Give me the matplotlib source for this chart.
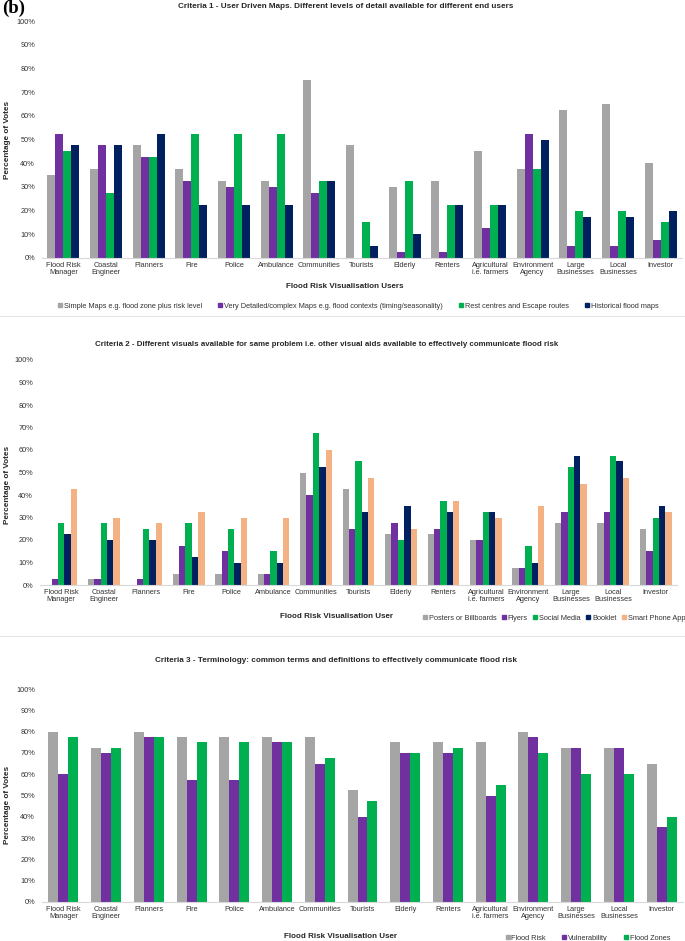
import matplotlib
matplotlib.use("Agg")
import matplotlib.pyplot as plt
import numpy as np
from matplotlib.patches import Patch
from matplotlib.lines import Line2D

plt.rcParams['font.family'] = ['Liberation Sans', 'DejaVu Sans']

users = ["Flood Risk\nManager", "Coastal\nEngineer", "Planners", "Fire", "Police",
         "Ambulance", "Communities", "Tourists", "Elderly", "Renters",
         "Agricultural\ni.e. farmers", "Environment\nAgency", "Large\nBusinesses",
         "Local\nBusinesses", "Investor"]

# Criteria 1
c1_names = ["Simple Maps e.g. flood zone plus risk level",
            "Very Detailed/complex Maps e.g. flood contexts (timing/seasonality)",
            "Rest centres and Escape routes", "Historical flood maps"]
c1_simple = [35, 37.5, 47.5, 37.5, 32.5, 32.5, 75, 47.5, 30, 32.5, 45, 37.5, 62.5, 65, 40]
c1_detailed = [52.5, 47.5, 42.5, 32.5, 30, 30, 27.5, 0, 2.5, 2.5, 12.5, 52.5, 5, 5, 7.5]
c1_rest = [45, 27.5, 42.5, 52.5, 52.5, 52.5, 32.5, 15, 32.5, 22.5, 22.5, 37.5, 20, 20, 15]
c1_hist = [47.5, 47.5, 52.5, 22.5, 22.5, 22.5, 32.5, 5, 10, 22.5, 22.5, 50, 17.5, 17.5, 20]

# Criteria 2
c2_names = ["Posters or Billboards", "Flyers", "Social Media", "Booklet", "Smart Phone App"]
c2_posters = [0, 2.5, 0, 5, 5, 5, 50, 42.5, 22.5, 22.5, 20, 7.5, 27.5, 27.5, 25]
c2_flyers = [2.5, 2.5, 2.5, 17.5, 15, 5, 40, 25, 27.5, 25, 20, 7.5, 32.5, 32.5, 15]
c2_social = [27.5, 27.5, 25, 27.5, 25, 15, 67.5, 55, 20, 37.5, 32.5, 17.5, 52.5, 57.5, 30]
c2_booklet = [22.5, 20, 20, 12.5, 10, 10, 52.5, 32.5, 35, 32.5, 32.5, 10, 57.5, 55, 35]
c2_app = [42.5, 30, 27.5, 32.5, 30, 30, 60, 47.5, 25, 37.5, 30, 35, 45, 47.5, 32.5]

# Criteria 3
c3_names = ["Flood Risk", "Vulnerability", "Flood Zones"]
c3_risk = [80, 72.5, 80, 77.5, 77.5, 77.5, 77.5, 52.5, 75, 75, 75, 80, 72.5, 72.5, 65]
c3_vuln = [60, 70, 77.5, 57.5, 57.5, 75, 65, 40, 70, 70, 50, 77.5, 72.5, 72.5, 35]
c3_zones = [77.5, 72.5, 77.5, 75, 75, 75, 67.5, 47.5, 70, 72.5, 55, 70, 60, 60, 40]

GRAY = "#A5A5A5"
PURPLE = "#7030A0"
GREEN = "#00B050"
NAVY = "#002060"
PEACH = "#F4B183"

W, H = 685, 941
fig = plt.figure(figsize=(W / 100, H / 100), dpi=100)

def px_axes(left, right, top, bottom):
    return fig.add_axes([left / W, 1 - bottom / H, (right - left) / W, (bottom - top) / H])

FS = 5.3
TXT = "#333333"

def draw(ax, series, colors, total_w):
    n = len(series)
    bw = total_w / n
    x = np.arange(len(users))
    for i, (vals, c) in enumerate(zip(series, colors)):
        ax.bar(x - total_w / 2 + bw * (i + 0.5), vals, width=bw, color=c, linewidth=0)
    ax.set_xlim(-0.5, len(users) - 0.5)
    ax.set_ylim(0, 100)
    ax.set_yticks(np.arange(0, 101, 10))
    ax.set_yticklabels([f"{v}%" for v in range(0, 101, 10)], fontsize=FS, color=TXT)
    ax.set_xticks(x)
    ax.set_xticklabels(users, fontsize=FS, color=TXT, linespacing=1.0)
    ax.tick_params(length=0, pad=3)
    ax.tick_params(axis='y', pad=5)
    for s in ["top", "right", "left"]:
        ax.spines[s].set_visible(False)
    ax.spines["bottom"].set_color("#D9D9D9")
    ax.spines["bottom"].set_linewidth(0.8)
    ax.set_facecolor("none")

# Panel 1
ax1 = px_axes(42, 682, 21, 258)
draw(ax1, [c1_simple, c1_detailed, c1_rest, c1_hist], [GRAY, PURPLE, GREEN, NAVY], 0.75)
fig.text(346 / W, 1 - 7 / H, "Criteria 1 - User Driven Maps. Different levels of detail available for different end users",
         ha="center", va="center", fontsize=5.9, weight="bold", color="#262626")
fig.text(345 / W, 1 - 287 / H, "Flood Risk Visualisation Users", ha="center", va="center",
         fontsize=5.8, weight="bold", color="#262626")
fig.text(8 / W, 1 - 140 / H, "Percentage of Votes", rotation=90, ha="center", va="center",
         fontsize=5.9, weight="bold", color="#262626")
h1 = [Patch(color=c) for c in [GRAY, PURPLE, GREEN, NAVY]]
fig.legend(h1, c1_names, loc="center", bbox_to_anchor=(358 / W, 1 - 306 / H), ncol=4,
           frameon=False, fontsize=FS, handlelength=0.55, handleheight=0.55, handletextpad=0.25,
           columnspacing=2.2, labelcolor=TXT)

# Panel 2
ax2 = px_axes(40, 677, 360, 585)
draw(ax2, [c2_posters, c2_flyers, c2_social, c2_booklet, c2_app], [GRAY, PURPLE, GREEN, NAVY, PEACH], 0.75)
fig.text(327 / W, 1 - 345 / H, "Criteria 2 - Different visuals available for same problem i.e. other visual aids available to effectively communicate flood risk",
         ha="center", va="center", fontsize=5.65, weight="bold", color="#262626")
fig.text(337 / W, 1 - 617 / H, "Flood Risk Visualisation User", ha="center", va="center",
         fontsize=5.8, weight="bold", color="#262626")
fig.text(8 / W, 1 - 485 / H, "Percentage of Votes", rotation=90, ha="center", va="center",
         fontsize=5.9, weight="bold", color="#262626")
h2 = [Patch(color=c) for c in [GRAY, PURPLE, GREEN, NAVY, PEACH]]
fig.legend(h2, c2_names, loc="center right", bbox_to_anchor=(687 / W, 1 - 618 / H), ncol=5,
           frameon=False, fontsize=FS, handlelength=0.55, handleheight=0.55, handletextpad=0.25,
           columnspacing=0.75, labelcolor=TXT, borderaxespad=0.0, borderpad=0.2)

# Panel 3
ax3 = px_axes(42, 683, 689, 902)
draw(ax3, [c3_risk, c3_vuln, c3_zones], [GRAY, PURPLE, GREEN], 0.7)
fig.text(336 / W, 1 - 661 / H, "Criteria 3 - Terminology: common terms and definitions to effectively communicate flood risk",
         ha="center", va="center", fontsize=5.85, weight="bold", color="#262626")
fig.text(341 / W, 1 - 937 / H, "Flood Risk Visualisation User", ha="center", va="center",
         fontsize=5.8, weight="bold", color="#262626")
fig.text(8 / W, 1 - 805 / H, "Percentage of Votes", rotation=90, ha="center", va="center",
         fontsize=5.9, weight="bold", color="#262626")
h3 = [Patch(color=c) for c in [GRAY, PURPLE, GREEN]]
fig.legend(h3, c3_names, loc="center", bbox_to_anchor=(588 / W, 1 - 938 / H), ncol=3,
           frameon=False, fontsize=FS, handlelength=0.55, handleheight=0.55, handletextpad=0.25,
           columnspacing=2.2, labelcolor=TXT)

# separators
for y in [316, 636]:
    fig.add_artist(Line2D([0, 1], [1 - y / H, 1 - y / H], transform=fig.transFigure,
                          color="#E6E6E6", linewidth=0.8))

fig.text(2 / W, 1 - 0 / H, "(b)", ha="left", va="top", fontsize=13.5, weight="bold",
         family=["Liberation Serif", "DejaVu Serif"])

fig.savefig("out.png", dpi=100, facecolor="white")
